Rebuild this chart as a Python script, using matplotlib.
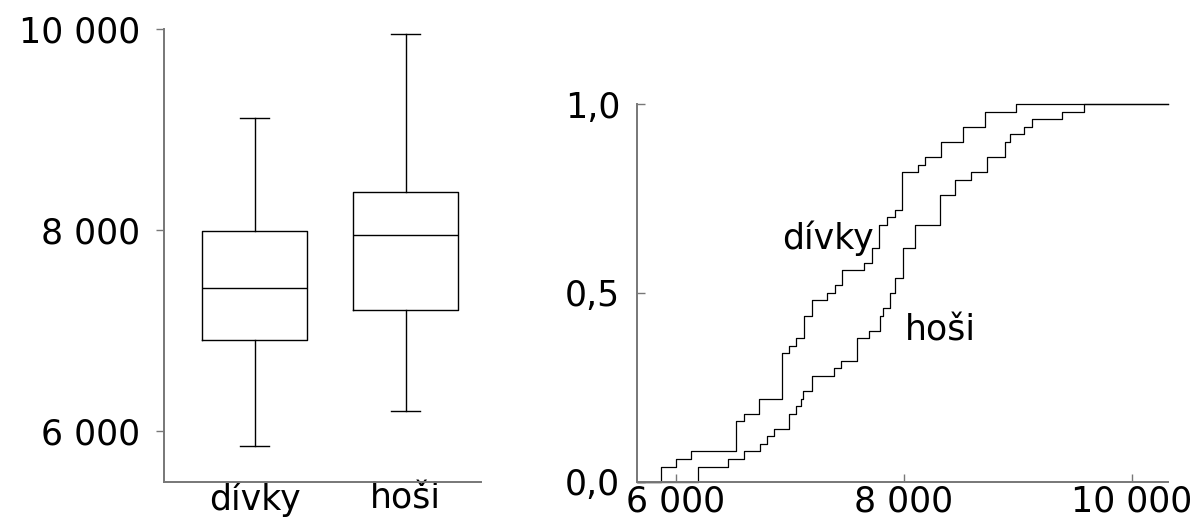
import numpy as np
import matplotlib.pyplot as plt

# boxplot summary
groups = ['dívky', 'hoši']
whis_lo = [5855, 6199]
q1 = [6903, 7201]
med = [7429, 7949]
q3 = [7995, 8382]
whis_hi = [9111, 9950]

# ECDF samples: distinct values and how many times each occurs
divky_vals = [5869, 6001, 6135, 6530, 6600, 6732, 6933, 6992, 7059, 7126, 7196,
              7325, 7398, 7462, 7653, 7720, 7787, 7857, 7925, 7989, 8124, 8188,
              8325, 8521, 8717, 8986]
divky_counts = [2, 1, 1, 4, 1, 2, 6, 1, 1, 3, 2,
                1, 1, 2, 1, 2, 3, 1, 1, 5, 1, 1,
                2, 2, 2, 1]
hosi_vals = [6199, 6462, 6600, 6740, 6804, 6863, 6992, 7056, 7097, 7120, 7196,
             7392, 7454, 7589, 7700, 7793, 7822, 7880, 7925, 7992, 8100, 8320,
             8451, 8589, 8734, 8890, 8934, 9057, 9123, 9387, 9585]
hosi_counts = [2, 1, 1, 1, 1, 1, 2, 1, 1, 1, 2,
               1, 1, 3, 1, 2, 1, 2, 2, 4, 3, 4,
               2, 1, 2, 2, 1, 1, 1, 1, 1]

box_yticks = [6000, 8000, 10000]
box_yticklabels = ['6 000', '8 000', '10 000']
ecdf_xticks = [6000, 8000, 10000]
ecdf_xticklabels = ['6 000', '8 000', '10 000']
ecdf_yticks = [0.0, 0.5, 1.0]
ecdf_yticklabels = ['0,0', '0,5', '1,0']

plt.rcParams['font.family'] = ['DejaVu Sans']
plt.rcParams['font.size'] = 25
spine_col = '#777777'

fig = plt.figure(figsize=(11.96, 5.17), dpi=100)

# ---- left: boxplot
ax1 = fig.add_axes([0.1371, 0.0683, 0.2651, 0.8762])
stats = []
for i in range(len(groups)):
    stats.append(dict(med=med[i], q1=q1[i], q3=q3[i],
                      whislo=whis_lo[i], whishi=whis_hi[i], fliers=[]))
line = dict(color='black', lw=1.0)
ax1.bxp(stats, positions=[1, 2], widths=0.70, capwidths=0.19,
        boxprops=line, whiskerprops=line, capprops=line,
        medianprops=line, showfliers=False)
ax1.set_xlim(0.40, 2.50)
ax1.set_ylim(5500, 10000)
ax1.set_xticks([1, 2])
ax1.set_xticklabels(groups)
ax1.set_yticks(box_yticks)
ax1.set_yticklabels(box_yticklabels)
ax1.tick_params(axis='x', length=0, pad=0)
ax1.tick_params(axis='y', direction='out', length=6, width=1.0, color=spine_col, pad=11)

# ---- right: empirical CDFs
ax2 = fig.add_axes([0.5326, 0.0683, 0.4440, 0.7302])
xmin, xmax = 5660, 10320
for vals, counts in [(divky_vals, divky_counts), (hosi_vals, hosi_counts)]:
    sample = np.sort(np.repeat(vals, counts))
    xs = np.unique(sample)
    F = np.searchsorted(sample, xs, side='right') / len(sample)
    ax2.step(np.r_[xmin, xs, xmax], np.r_[0, F, 1], where='post',
             color='black', lw=0.9, clip_on=False)
ax2.text(7337, 0.645, 'dívky', ha='center', va='center')
ax2.text(8319, 0.401, 'hoši', ha='center', va='center')
ax2.set_xlim(xmin, xmax)
ax2.set_ylim(0, 1)
ax2.set_xticks(ecdf_xticks)
ax2.set_xticklabels(ecdf_xticklabels)
ax2.set_yticks(ecdf_yticks)
ax2.set_yticklabels(ecdf_yticklabels)
ax2.tick_params(axis='x', direction='in', length=6, width=1.0, color=spine_col, pad=2)
ax2.tick_params(axis='y', direction='in', length=6, width=1.0, color=spine_col, pad=12)

for ax in (ax1, ax2):
    for s in ('top', 'right'):
        ax.spines[s].set_visible(False)
    for s in ('left', 'bottom'):
        ax.spines[s].set_color(spine_col)
        ax.spines[s].set_linewidth(1.4)

fig.savefig('out.png', dpi=100)
